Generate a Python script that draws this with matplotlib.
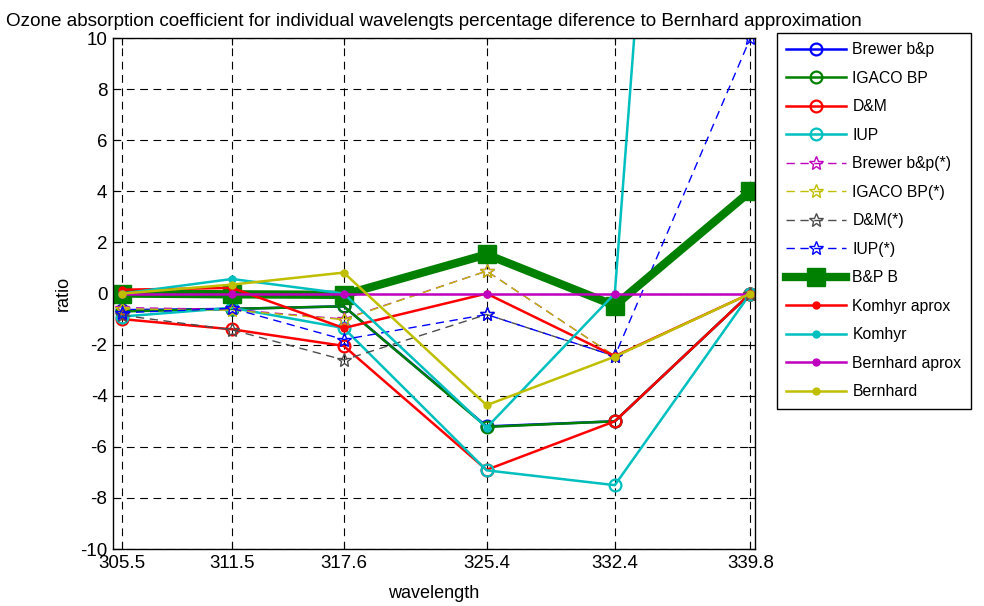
import matplotlib
matplotlib.use("Agg")
import matplotlib.pyplot as plt

plt.rcParams["font.family"] = ["Liberation Sans", "DejaVu Sans"]
plt.rcParams["font.size"] = 11
plt.rcParams["axes.unicode_minus"] = False

wavelength = [305.5, 311.5, 317.6, 325.4, 332.4, 339.8]

brewer_bp = [-0.65, -0.6, -0.5, -5.2, -5.0, 0.0]
igaco_bp = [-0.7, -0.6, -0.5, -5.22, -5.0, 0.0]
dm = [-1.0, -1.4, -2.05, -6.9, -5.0, 0.0]
iup = [-0.9, -0.56, -1.35, -6.92, -7.5, 0.0]
brewer_bp_s = [-0.55, -0.62, -1.0, 0.88, -2.45, 0.0]
igaco_bp_s = [-0.6, -0.65, -1.02, 0.88, -2.45, 0.0]
dm_s = [-0.85, -1.42, -2.6, -0.82, -2.45, 0.0]
iup_s = [-0.75, -0.58, -1.8, -0.82, -2.45, 10.0]
bp_b = [0.0, -0.03, -0.05, 1.53, -0.47, 4.0]
komhyr_aprox = [0.15, 0.22, -1.35, 0.0, -2.45, 0.0]
komhyr = [0.0, 0.57, 0.0, -5.25, 0.0, 70.0]
bernhard_aprox = [0.0, 0.0, 0.0, 0.0, 0.0, 0.0]
bernhard = [0.0, 0.35, 0.82, -4.37, -2.47, 0.0]

# matlab default colour letters
B = (0, 0, 1)
G = (0, 0.5, 0)
R = (1, 0, 0)
C = (0, 0.75, 0.75)
M = (0.75, 0, 0.75)
Y = (0.75, 0.75, 0)
K = (0.3, 0.3, 0.3)

fig = plt.figure(figsize=(9.84, 6.06), dpi=100)
ax = fig.add_axes([0.1148, 0.094, 0.6524, 0.8432])

circ = dict(marker="o", ms=8.5, mfc="none", mew=1.6, lw=1.8)
star = dict(marker="*", ms=10, mfc="none", mew=1.0, lw=1.0, ls=(0, (6, 4)))
dot = dict(marker="o", ms=5, lw=1.8)

ax.plot(wavelength, brewer_bp, color=B, mec=B, label="Brewer b&p", **circ)
ax.plot(wavelength, igaco_bp, color=G, mec=G, label="IGACO BP", **circ)
ax.plot(wavelength, dm, color=R, mec=R, label="D&M", **circ)
ax.plot(wavelength, iup, color=C, mec=C, label="IUP", **circ)
ax.plot(wavelength, brewer_bp_s, color=M, mec=M, label="Brewer b&p(*)", **star)
ax.plot(wavelength, igaco_bp_s, color=Y, mec=Y, label="IGACO BP(*)", **star)
ax.plot(wavelength, dm_s, color=K, mec=K, label="D&M(*)", **star)
ax.plot(wavelength, iup_s, color=B, mec=B, label="IUP(*)", **star)
ax.plot(wavelength, bp_b, color=G, lw=6, marker="s", ms=13, label="B&P B")
ax.plot(wavelength, komhyr_aprox, color=R, label="Komhyr aprox", **dot)
ax.plot(wavelength, komhyr, color=C, label="Komhyr", **dot)
ax.plot(wavelength, bernhard_aprox, color=M, label="Bernhard aprox", **dot)
ax.plot(wavelength, bernhard, color=Y, label="Bernhard", **dot)

ax.set_xlim(305.0, 340.05)
ax.set_ylim(-10, 10)
ax.set_xticks(wavelength)
ax.set_xticklabels(["305.5", "311.5", "317.6", "325.4", "332.4", "339.8"])
ax.set_yticks(range(-10, 11, 2))
ax.tick_params(direction="in", top=True, right=True, length=5, width=0.8,
               labelsize=13.5, colors="k", pad=4)
ax.grid(True, color="k", ls=(0, (7, 5)), lw=0.8)
for s in ax.spines.values():
    s.set_linewidth(1.0)

ax.set_xlabel("wavelength", fontsize=13, labelpad=10)
ax.set_ylabel("ratio", fontsize=13, labelpad=6)
ax.set_title("Ozone absorption coefficient for individual wavelengts percentage "
             "diference to Bernhard approximation", fontsize=13.6, pad=9)

leg = ax.legend(loc="upper left", bbox_to_anchor=(0.7896, 0.9455),
                bbox_transform=fig.transFigure, borderaxespad=0,
                fancybox=False, edgecolor="k", framealpha=1, fontsize=11.3,
                handlelength=3.8, labelspacing=0.86, handletextpad=0.4,
                borderpad=0.6)
leg.get_frame().set_linewidth(1.0)

fig.savefig("out.png", dpi=100)
